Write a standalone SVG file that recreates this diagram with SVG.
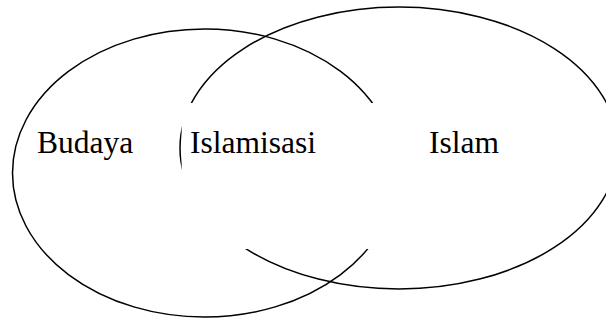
<svg xmlns="http://www.w3.org/2000/svg" width="606" height="320" viewBox="0 0 606 320">
<style>
.shape{fill:none;stroke:#000;stroke-width:1.5}
.lbl{font-family:"Liberation Serif","Times New Roman",serif;font-size:31.5px;fill:#000}
.box{fill:#fff;stroke:none}
</style>
<rect width="606" height="320" fill="#fff"/>
<g id="budaya-circle"><ellipse class="shape" cx="204.5" cy="173" rx="192" ry="144"/></g>
<g id="islam-circle"><ellipse class="shape" cx="399" cy="148" rx="219" ry="141"/></g>
<g id="connectors"></g>
<g id="islamisasi"><rect class="box" x="181.6" y="103" width="218" height="146"/><text class="lbl" x="190" y="153">Islamisasi</text></g>
<g id="budaya"><text class="lbl" x="37" y="153">Budaya</text></g>
<g id="islam"><text class="lbl" x="429" y="153">Islam</text></g>
</svg>
